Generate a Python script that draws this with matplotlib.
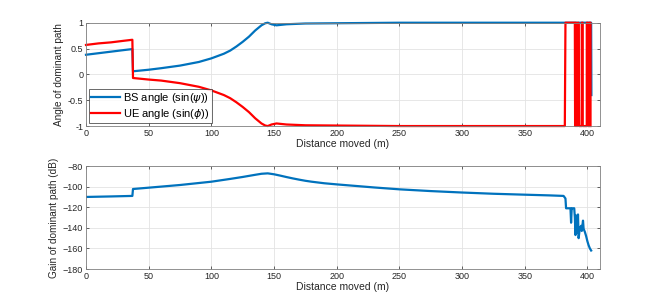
import numpy as np
import matplotlib
matplotlib.use('Agg')
import matplotlib.pyplot as plt

plt.rcParams['font.family'] = ['Liberation Sans', 'DejaVu Sans']
plt.rcParams['mathtext.fontset'] = 'dejavusans'

# BS angle (sin(psi))
bs_x = [0, 10, 20, 30, 37, 37.5, 50, 60, 75, 90, 100, 110, 115, 120, 125, 130,
        135, 140, 143, 145, 148, 152, 160, 175, 200, 250, 300, 350, 380, 400,
        403, 403.2]
bs_y = [0.38, 0.41, 0.44, 0.47, 0.49, 0.06, 0.09, 0.12, 0.17, 0.24, 0.31, 0.40,
        0.46, 0.54, 0.63, 0.73, 0.85, 0.95, 0.99, 1.0, 0.97, 0.95, 0.97, 0.985,
        0.99, 1.0, 1.0, 1.0, 1.0, 1.0, 1.0, -0.40]

# UE angle (sin(phi))
ue_x = [0, 10, 20, 30, 37, 37.5, 50, 60, 75, 90, 100, 110, 115, 120, 125, 130,
        135, 140, 143, 145, 148, 152, 160, 175, 200, 250, 300, 350, 382, 382.5,
        390, 390.2, 390.7, 391.2, 391.7, 392.3, 392.8, 393.4, 395.5, 395.5,
        396.3, 396.3, 399.5, 399.5, 400.5, 400.5, 401.5, 401.5, 402.5, 402.5]
ue_y = [0.57, 0.60, 0.62, 0.65, 0.67, -0.07, -0.10, -0.12, -0.17, -0.24, -0.31,
        -0.40, -0.46, -0.54, -0.63, -0.73, -0.85, -0.95, -0.99, -1.0, -0.97,
        -0.95, -0.97, -0.985, -0.99, -1.0, -1.0, -1.0, -1.0, 1.0,
        1.0, -1.0, 1.0, -1.0, 1.0, -1.0, 1.0, -1.0, -1.0, 1.0,
        1.0, -1.0, -1.0, 1.0, 1.0, -1.0, -1.0, 1.0, 1.0, -1.0]

# gain of dominant path (dB)
gain_x = [0, 20, 37, 37.5, 50, 75, 100, 115, 125, 135, 140, 145, 150, 155, 160,
          165, 170, 175, 180, 190, 200, 215, 230, 250, 275, 300, 325, 350, 370,
          381, 382.5, 383, 386.5, 387, 387.5, 388, 389.5, 390, 390.5, 391,
          391.5, 392, 392.5, 393, 394, 395, 395.5, 396.5, 397, 398, 399, 400,
          401, 402, 403]
gain_y = [-110, -109.5, -109, -102.3, -101, -98.4, -95.2, -92.5, -90.6, -88.5,
          -87.5, -87.1, -88, -89.3, -90.7, -92, -93.2, -94.3, -95.2, -96.7,
          -97.8, -99.3, -100.8, -102.6, -104.3, -105.7, -106.9, -107.8, -108.5,
          -109, -111.5, -121, -121, -135, -121, -121, -121, -130, -147, -128,
          -135, -145, -127, -150, -140, -138, -143, -133, -141, -144, -148,
          -153, -157, -160, -162]

xticks = [0, 50, 100, 150, 200, 250, 300, 350, 400]
angle_ticks = [-1, -0.5, 0, 0.5, 1]
gain_ticks = [-180, -160, -140, -120, -100, -80]

blue = '#0072BD'
red = '#FF0000'
dark = '#262626'

fig = plt.figure(figsize=(6.64, 3.03), dpi=100)
ax1 = fig.add_axes([0.1295, 0.584, 0.774, 0.341])
ax2 = fig.add_axes([0.1295, 0.112, 0.774, 0.340])

for ax in (ax1, ax2):
    ax.set_xlim(0, 410)
    ax.set_xticks(xticks)
    ax.grid(True, color='#e3e3e3', linewidth=0.6)
    ax.set_axisbelow(True)
    ax.tick_params(direction='in', length=2.5, width=0.5, labelsize=6.5,
                   colors=dark, top=True, right=True, labeltop=False, labelright=False,
                   pad=2)
    for s in ax.spines.values():
        s.set_color('#808080')
        s.set_linewidth(0.6)
    ax.set_xlabel('Distance moved (m)', fontsize=7.5, color=dark, labelpad=1)

ax1.plot(bs_x, bs_y, color=blue, lw=1.6, label=r'BS angle (sin($\psi$))', clip_on=False)
ax1.plot(ue_x, ue_y, color=red, lw=1.6, label=r'UE angle (sin($\phi$))', clip_on=False)
ax1.set_ylim(-1, 1)
ax1.set_yticks(angle_ticks)
ax1.set_yticklabels(['-1', '-0.5', '0', '0.5', '1'])
ax1.set_ylabel('Angle of dominant path', fontsize=7.2, color=dark, labelpad=3)
leg = ax1.legend(loc='lower left', fontsize=8, frameon=True, fancybox=False,
                 borderpad=0.2, handlelength=2.6, handletextpad=0.3,
                 labelspacing=0.2, borderaxespad=0.25)
leg.get_frame().set_edgecolor(dark)
leg.get_frame().set_linewidth(0.6)
leg.set_zorder(5)

ax2.plot(gain_x, gain_y, color=blue, lw=1.6)
ax2.set_ylim(-180, -80)
ax2.set_yticks(gain_ticks)
ax2.set_ylabel('Gain of dominant path (dB)', fontsize=7.2, color=dark, labelpad=3)

fig.savefig('out.png', dpi=100)
